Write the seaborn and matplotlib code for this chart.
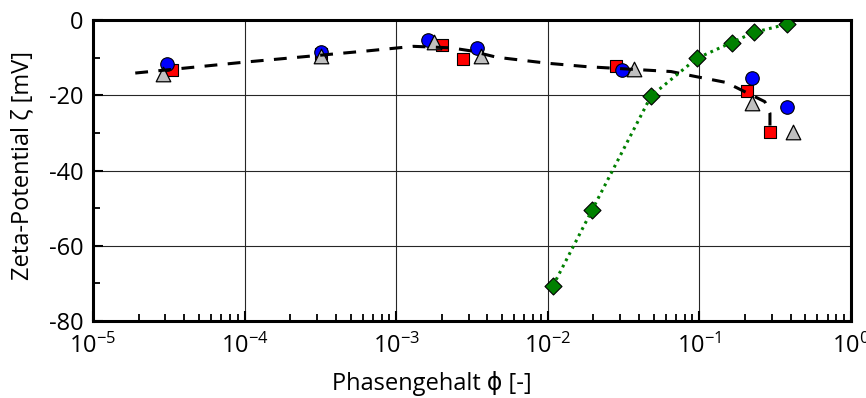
import numpy as np
import pandas as pd
import matplotlib
matplotlib.use("Agg")
import matplotlib.pyplot as plt
import seaborn as sns
from matplotlib import font_manager as fm
from matplotlib.ticker import LogLocator, MultipleLocator, FuncFormatter

# ---------------- data ----------------
red_x = [3.3e-5, 3.2e-4, 2.0e-3, 2.75e-3, 0.028, 0.206, 0.292]
red_y = [-13.3, -9.0, -6.6, -10.3, -12.2, -18.8, -29.8]

blue_x = [3.1e-5, 3.2e-4, 1.63e-3, 3.4e-3, 0.031, 0.222, 0.378]
blue_y = [-11.7, -8.5, -5.3, -7.4, -13.2, -15.4, -23.2]

gray_x = [2.9e-5, 3.2e-4, 1.77e-3, 3.6e-3, 0.037, 0.222, 0.414]
gray_y = [-14.4, -9.6, -5.8, -9.6, -13.0, -22.1, -29.7]

green_x = [0.0108, 0.0196, 0.048, 0.096, 0.163, 0.229, 0.378]
green_y = [-70.7, -50.5, -20.2, -10.2, -6.0, -3.3, -1.1]

trend_x = [1.9e-5, 1.0e-4, 6.5e-4, 1.3e-3, 2.3e-3, 3.1e-3, 4.6e-3, 0.01, 0.018,
           0.065, 0.091, 0.15, 0.222, 0.27, 0.292, 0.292]
trend_y = [-14.1, -11.2, -8.2, -7.0, -7.4, -8.2, -9.9, -11.5, -12.4,
           -13.7, -14.9, -16.6, -20.0, -21.7, -24.8, -29.8]

xlabel = "Phasengehalt \u03d5 [-]"
ylabel = "Zeta-Potential \u03b6 [mV]"

# ---------------- style ----------------
sns.set_style("white")
avail = {f.name for f in fm.fontManager.ttflist}
fams = [f for f in ["Open Sans", "DejaVu Sans"] if f in avail]
plt.rcParams["font.family"] = fams + (["DejaVu Sans"] if "DejaVu Sans" not in fams else [])
plt.rcParams["axes.unicode_minus"] = False
plt.rcParams["mathtext.fontset"] = "custom"
plt.rcParams["mathtext.rm"] = fams[0]
plt.rcParams["mathtext.it"] = fams[0]
plt.rcParams["text.color"] = "black"
plt.rcParams["axes.labelcolor"] = "black"
plt.rcParams["xtick.color"] = "black"
plt.rcParams["ytick.color"] = "black"

fig = plt.figure(figsize=(8.66, 3.98), dpi=100)
ax = fig.add_axes([93 / 866, 1 - 321 / 398, (851 - 93) / 866, (321 - 20) / 398])

def df(x, y):
    return pd.DataFrame({"x": x, "y": y})

ec = "black"
sns.scatterplot(data=df(red_x, red_y), x="x", y="y", marker="s", s=80, color="#ff0000",
                edgecolor=ec, linewidth=0.8, ax=ax, zorder=3)
sns.scatterplot(data=df(blue_x, blue_y), x="x", y="y", marker="o", s=95, color="#0000ff",
                edgecolor=ec, linewidth=0.8, ax=ax, zorder=4)
sns.scatterplot(data=df(gray_x, gray_y), x="x", y="y", marker="^", s=110, color="#c0c0c0",
                edgecolor=ec, linewidth=0.9, ax=ax, zorder=5)
sns.scatterplot(data=df(green_x, green_y), x="x", y="y", marker="D", s=75, color="#008000",
                edgecolor=ec, linewidth=0.8, ax=ax, zorder=6)

sns.lineplot(data=df(trend_x, trend_y), x="x", y="y", sort=False, estimator=None,
             color="black", lw=2.2, ax=ax, zorder=7)
ax.lines[-1].set_dashes((4.2, 3.4))
sns.lineplot(data=df(green_x, green_y), x="x", y="y", sort=False, estimator=None,
             color="#008000", lw=2.2, ax=ax, zorder=7)
ax.lines[-1].set_dashes((0.9, 1.4))

ax.set_xscale("log")
ax.set_xlim(1e-5, 1)
ax.set_ylim(-80, 0)
ax.yaxis.set_major_locator(MultipleLocator(20))
ax.yaxis.set_minor_locator(MultipleLocator(10))
ax.xaxis.set_major_locator(LogLocator(base=10, numticks=10))
ax.xaxis.set_minor_locator(LogLocator(base=10, subs=np.arange(2, 10), numticks=20))
ax.xaxis.set_major_formatter(FuncFormatter(
    lambda v, p: "10$^{%d}$" % int(round(np.log10(v))) if v > 0 else ""))

ax.grid(True, which="major", color="0.15", lw=0.8)
for s in ax.spines.values():
    s.set_linewidth(2.2)
    s.set_color("black")
ax.tick_params(axis="both", which="both", direction="in", labelsize=17,
               top=False, right=False, left=True, bottom=True)
ax.tick_params(which="major", length=7, width=1.5)
ax.tick_params(which="minor", length=5, width=1.3)
ax.tick_params(axis="y", which="major", pad=7)
ax.tick_params(axis="x", which="major", pad=9)

ax.set_xlabel(xlabel, fontsize=17)
ax.set_ylabel(ylabel, fontsize=17)
ax.xaxis.set_label_coords((432 - 93) / 758, -0.165)
ax.yaxis.set_label_coords(-0.077, (321 - 165) / 301)

fig.savefig("out.png", dpi=100)
